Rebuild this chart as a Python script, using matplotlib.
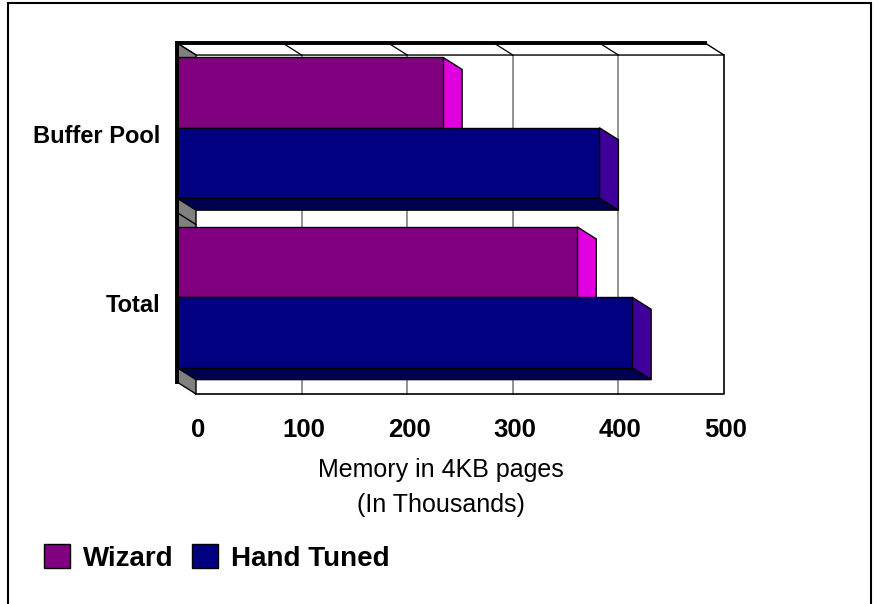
import matplotlib
matplotlib.use("Agg")
import matplotlib.pyplot as plt
from matplotlib.patches import Polygon, Rectangle, Patch

# chart data
categories = ["Buffer Pool", "Total"]
wizard = [252, 379]
hand_tuned = [400, 431]
value_ticks = [0, 100, 200, 300, 400, 500]

plt.rcParams["font.family"] = ["Liberation Sans", "DejaVu Sans"]

# 3D look: depth of the box in data units (right and down)
DX = 18.0
DY = 0.071
BAR_H = 0.415

fig = plt.figure(figsize=(8.79, 6.04), dpi=100)
ax = fig.add_axes([177 / 879, 222 / 604, 528 / 879, 339 / 604])
ax.set_xlim(0, 500)
ax.set_ylim(-0.5, 1.5)
ax.patch.set_visible(False)
ylo, yhi = -0.5, 1.5
xmax = value_ticks[-1]
y_pos = [1, 0]


def poly(pts, fc, ec="black", lw=1.0, z=1):
    ax.add_patch(Polygon(pts, closed=True, facecolor=fc, edgecolor=ec,
                         lw=lw, zorder=z, clip_on=False))


# back wall + gridlines
poly([(DX, ylo - DY), (xmax + DX, ylo - DY), (xmax + DX, yhi - DY), (DX, yhi - DY)],
     "white", ec="none", z=1)
for v in value_ticks[1:-1]:
    ax.plot([v + DX, v + DX], [ylo - DY, yhi - DY], color="#808080", lw=1.2,
            zorder=1.5, clip_on=False)
ax.plot([DX, xmax + DX, xmax + DX], [ylo - DY, ylo - DY, yhi - DY],
        color="black", lw=1.2, zorder=1.6, clip_on=False)

# ceiling strip
poly([(0, yhi), (xmax, yhi), (xmax + DX, yhi - DY), (DX, yhi - DY)], "white", z=2)
for v in value_ticks[1:-1]:
    ax.plot([v, v + DX], [yhi, yhi - DY], color="black", lw=0.9, zorder=2.1,
            clip_on=False)

# left wall (gray)
poly([(0, ylo), (0, yhi), (DX, yhi - DY), (DX, ylo - DY)], "#808080", z=2)
ax.plot([0, DX], [0.5, 0.5 - DY], color="black", lw=1, zorder=2.1, clip_on=False)

# bars
z = 3
for i, y in enumerate(y_pos):
    series = [(wizard[i], BAR_H / 2, "#800080", "#E000E0", "#400040"),
              (hand_tuned[i], -BAR_H / 2, "#000080", "#3F0099", "#000050")]
    for val, off, front, side, bottom in series:
        yc = y + off
        y0, y1 = yc - BAR_H / 2, yc + BAR_H / 2
        poly([(0, y0), (val, y0), (val + DX, y0 - DY), (DX, y0 - DY)], bottom, z=z)
        poly([(val, y1), (val + DX, y1 - DY), (val + DX, y0 - DY), (val, y0)], side, z=z)
        ax.barh(yc, val, height=BAR_H, color=front, edgecolor="black", lw=1,
                zorder=z + 0.5)
        z += 1

# spines
for s in ["right", "bottom"]:
    ax.spines[s].set_visible(False)
for s in ["left", "top"]:
    ax.spines[s].set_linewidth(2.8)
    ax.spines[s].set_zorder(20)

# category labels
ax.set_yticks([y - DY / 2 for y in y_pos], categories, fontsize=17, fontweight="bold")
ax.tick_params(axis="y", length=0, pad=12)
ax.set_xticks([])

# value labels sit under the back wall
for v in value_ticks:
    ax.annotate(str(v), xy=(v + DX, ylo - DY), xytext=(1.5, -26),
                textcoords="offset points", ha="center", va="center",
                fontsize=18.5, fontweight="bold", annotation_clip=False)

ax.annotate("Memory in 4KB pages\n(In Thousands)", xy=(0.5, 0), xycoords="axes fraction",
            xytext=(0, -76), textcoords="offset points", ha="center", va="center",
            fontsize=18, linespacing=1.55, multialignment="center")

# legend
handles = [Patch(facecolor="#800080", edgecolor="black", label="Wizard"),
           Patch(facecolor="#000080", edgecolor="black", label="Hand Tuned")]
fig.legend(handles=handles, loc="center left", bbox_to_anchor=(44 / 879, 1 - 558 / 604),
           ncol=2, frameon=False, borderpad=0, borderaxespad=0,
           handlelength=0.94, handleheight=0.9, handletextpad=0.47, columnspacing=0.65,
           prop={"weight": "bold", "size": 20})

# outer frame
fig.add_artist(Rectangle((8 / 879, -0.1), 863 / 879, 1.1 - 3 / 604,
                         transform=fig.transFigure, fill=False, ec="black", lw=1.5))

fig.savefig("out.png", dpi=100)
